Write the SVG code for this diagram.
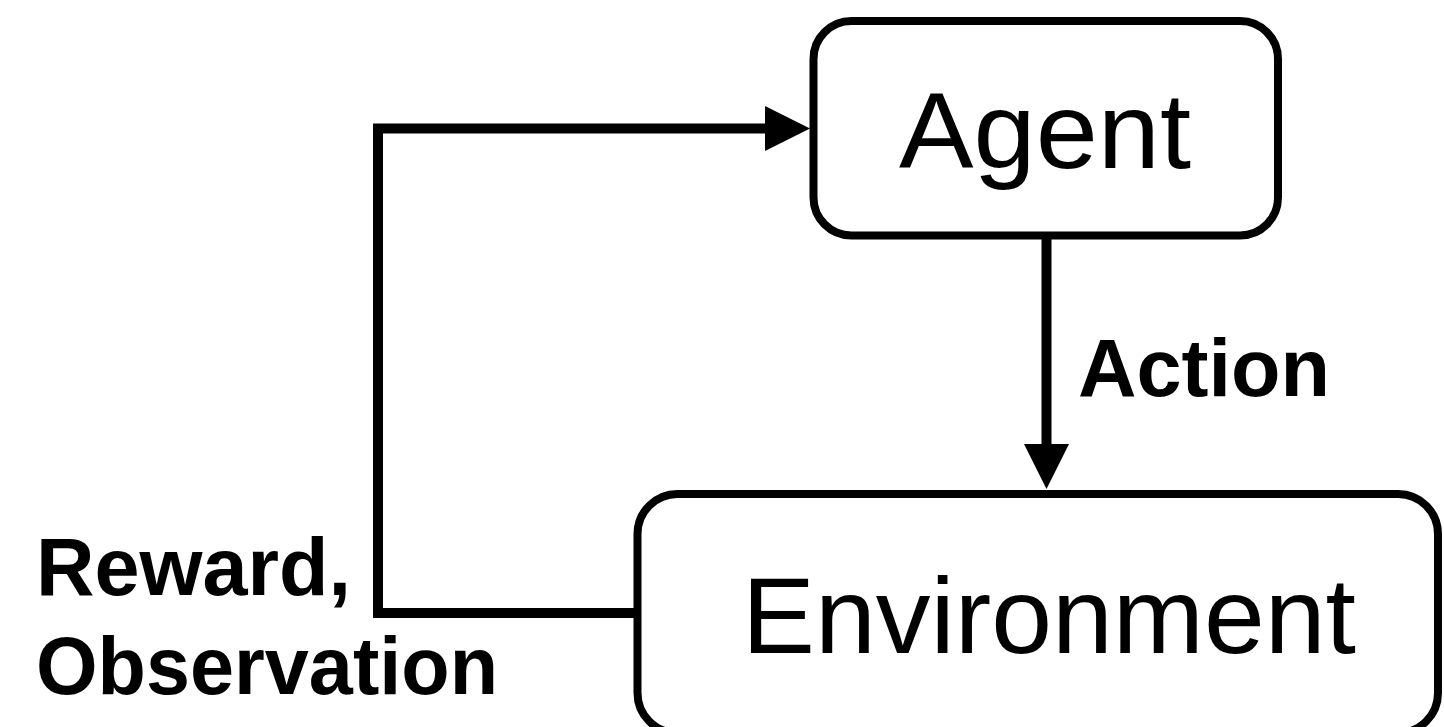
<svg xmlns="http://www.w3.org/2000/svg" width="1444" height="727" viewBox="0 0 1444 727">
  <defs>
    <style>
      .box { fill: #ffffff; stroke: #000000; stroke-width: 8; }
      .wire { fill: none; stroke: #000000; stroke-width: 10; stroke-linejoin: miter; stroke-linecap: butt; }
      .head { fill: #000000; stroke: none; }
      .node-label { font-family: "Liberation Sans", Arial, Helvetica, sans-serif; font-size: 107px; fill: #000000; text-anchor: middle; }
      .edge-label { font-family: "Liberation Sans", Arial, Helvetica, sans-serif; font-size: 81px; font-weight: bold; fill: #000000; }
    </style>
  </defs>
  <rect width="1444" height="727" fill="#ffffff"/>

  <!-- connectors -->
  <g id="connectors">
    <!-- feedback loop: Environment back to Agent -->
    <path class="wire" d="M 634 613 H 378 V 128.5 H 768"/>
    <polygon class="head" points="765,106 810,128.5 765,151"/>
    <!-- Agent acts on Environment -->
    <path class="wire" d="M 1046.5 238 V 447"/>
    <polygon class="head" points="1024,444 1069,444 1046.5,489"/>
  </g>

  <g id="agent">
    <rect class="box" x="813.5" y="21" width="464.5" height="214.5" rx="38" ry="38"/>
    <text class="node-label" x="1045" y="168" textLength="292" lengthAdjust="spacingAndGlyphs">Agent</text>
  </g>

  <g id="environment">
    <rect class="box" x="637.5" y="494" width="800.5" height="239" rx="40" ry="40"/>
    <text class="node-label" x="1049" y="653" textLength="614" lengthAdjust="spacingAndGlyphs">Environment</text>
  </g>

  <g id="labels">
    <text class="edge-label" x="1078" y="396">Action</text>
    <text class="edge-label" x="36" y="595">Reward,</text>
    <text class="edge-label" x="36" y="694" textLength="462" lengthAdjust="spacingAndGlyphs">Observation</text>
  </g>
</svg>
